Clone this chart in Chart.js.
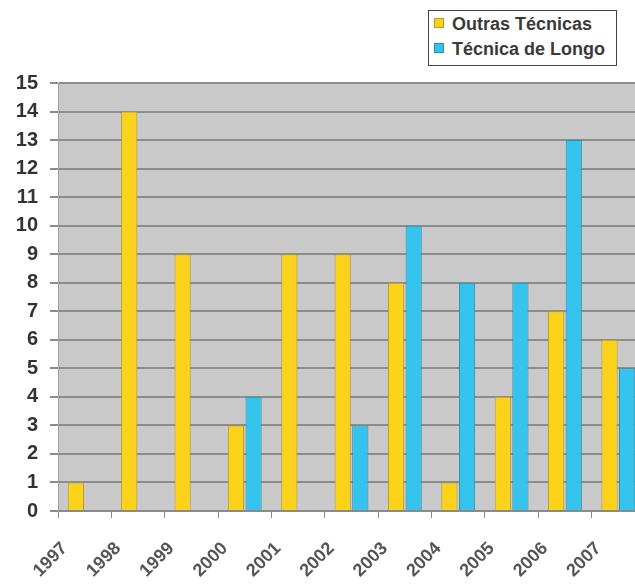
<!DOCTYPE html>
<html>
<head>
<meta charset="utf-8">
<script src="https://cdn.jsdelivr.net/npm/chart.js@4/dist/chart.umd.min.js"></script>
<style>
    html, body { margin: 0; padding: 0; background: #fff; overflow: hidden; }
    #wrap { position: relative; width: 645px; height: 586px; }
    #legend {
        position: absolute; left: 428px; top: 10px; width: 187px; height: 54px;
        border: 1px solid #444; background: #fff;
        font: bold 18px "Liberation Sans", Arial, sans-serif; color: #3a3a3a;
    }
    #legend div { position: absolute; left: 5px; white-space: nowrap; }
    #legend span.box {
        display: inline-block; width: 8px; height: 8px; margin-right: 8px;
        vertical-align: 2px; border: 1px solid;
    }
</style>
</head>
<body>
<div id="wrap">
    <canvas id="chart" width="645" height="586"></canvas>
    <div id="legend"></div>
</div>
<script>
const years = ["1997", "1998", "1999", "2000", "2001", "2002", "2003", "2004", "2005", "2006", "2007"];
const outrasTecnicas = [1, 14, 9, 3, 9, 9, 8, 1, 4, 7, 6];
const tecnicaDeLongo = [0, 0, 0, 4, 0, 3, 10, 8, 8, 13, 5];
const yTicks = [0, 1, 2, 3, 4, 5, 6, 7, 8, 9, 10, 11, 12, 13, 14, 15];

const series = [
    { label: "Outras Técnicas", data: outrasTecnicas, fill: "#fcd31a", edge: "#b99b22" },
    { label: "Técnica de Longo", data: tecnicaDeLongo, fill: "#33c3ec", edge: "#2a8fae" },
];

// gray plot background
const plotBg = {
    id: "plotBg",
    beforeDraw(chart) {
        const { ctx, chartArea: a } = chart;
        ctx.save();
        ctx.fillStyle = "#c9c9c9";
        ctx.fillRect(a.left, a.top, a.right - a.left, a.bottom - a.top);
        ctx.restore();
    },
};

new Chart(document.getElementById("chart"), {
    type: "bar",
    data: {
        labels: years,
        datasets: series.map((s) => ({
            label: s.label,
            data: s.data,
            backgroundColor: s.fill,
            borderColor: s.edge,
            borderWidth: 1,
            categoryPercentage: 0.66,
            barPercentage: 0.92,
        })),
    },
    options: {
        responsive: false,
        animation: false,
        layout: { padding: { top: 83, right: 0, left: 0, bottom: 0 } },
        plugins: {
            legend: { display: false },
            tooltip: { enabled: false },
        },
        scales: {
            x: {
                grid: { drawOnChartArea: false, color: "#888", tickLength: 7, offset: true },
                border: { color: "#8a8a8a", width: 2 },
                ticks: {
                    minRotation: 45,
                    maxRotation: 45,
                    labelOffset: -20,
                    padding: 20,
                    color: "#555",
                    font: { family: "Liberation Sans, Arial", size: 18, weight: "bold" },
                },
                afterFit(scale) {
                    scale.height = 75;
                    scale.paddingLeft = 0;
                    scale.paddingRight = 0;
                },
            },
            y: {
                min: 0,
                max: 15,
                afterBuildTicks(scale) { scale.ticks = yTicks.map((v) => ({ value: v })); },
                grid: { color: "#8c8c8c", lineWidth: 2, tickLength: 8 },
                border: { color: "#a0a0a0", width: 1 },
                ticks: {
                    padding: 12,
                    color: "#333",
                    font: { family: "Liberation Sans, Arial", size: 20, weight: "bold" },
                },
                afterFit(scale) { scale.width = 58; },
            },
        },
    },
    plugins: [plotBg],
});

const legend = document.getElementById("legend");
series.forEach((s, i) => {
    const row = document.createElement("div");
    row.style.top = (i === 0 ? 3 : 28) + "px";
    row.innerHTML = `<span class="box" style="background:${s.fill};border-color:${s.edge}"></span>${s.label}`;
    legend.appendChild(row);
});
</script>
</body>
</html>
